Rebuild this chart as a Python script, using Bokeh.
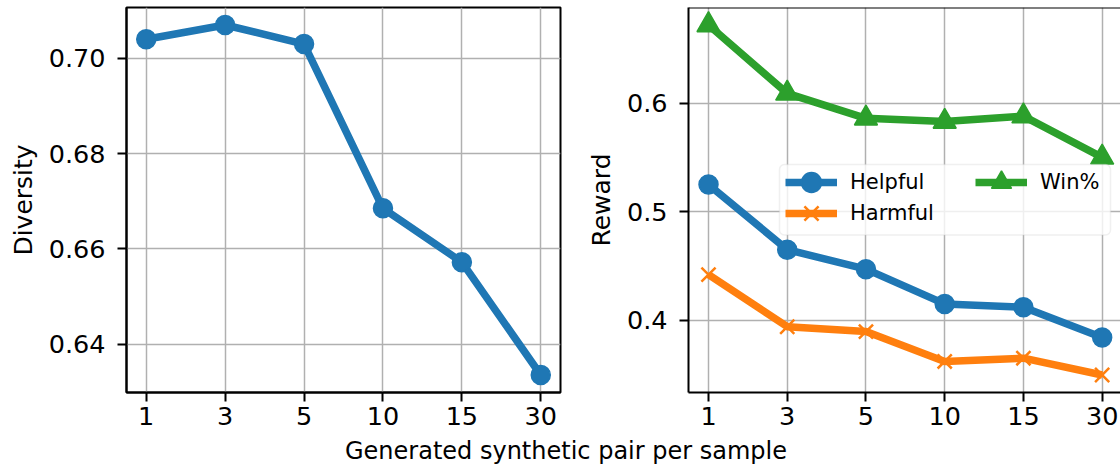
from bokeh.plotting import figure
from bokeh.models import (Range1d, FixedTicker, Legend, LegendItem, BoxAnnotation,
                          Span, Label, PrintfTickFormatter)
from bokeh.layouts import column, row
from bokeh.embed import file_html
from bokeh.resources import INLINE

# ---------------- data ----------------
x_labels = ["1", "3", "5", "10", "15", "30"]
diversity = [0.704, 0.707, 0.703, 0.6685, 0.6572, 0.6335]
helpful = [0.525, 0.465, 0.447, 0.415, 0.412, 0.384]
harmful = [0.442, 0.394, 0.3895, 0.362, 0.365, 0.3495]
win_rate = [0.672, 0.609, 0.586, 0.583, 0.588, 0.550]
div_ticks = [0.64, 0.66, 0.68, 0.70]
reward_ticks = [0.4, 0.5, 0.6]
x_title = "Generated synthetic pair per sample"

xs = list(range(len(x_labels)))
FONT = "DejaVu Sans"
BLUE, ORANGE, GREEN = "#1f77b4", "#ff7f0e", "#2ca02c"
LW = 7.5
ROW_H = 436
LBL_H = 28


def padded(vals, frac=0.05):
    lo, hi = min(vals), max(vals)
    m = (hi - lo) * frac
    return lo - m, hi + m


def style(p, yticks, fmt, ylabel):
    p.xaxis.ticker = FixedTicker(ticks=xs)
    p.xgrid.ticker = FixedTicker(ticks=xs)
    p.xaxis.major_label_overrides = {i: s for i, s in zip(xs, x_labels)}
    p.yaxis.ticker = FixedTicker(ticks=yticks)
    p.ygrid.ticker = FixedTicker(ticks=yticks)
    p.yaxis.formatter = PrintfTickFormatter(format=fmt)
    p.yaxis.axis_label = ylabel
    for ax in (p.xaxis[0], p.yaxis[0]):
        ax.major_tick_out = 9
        ax.major_tick_in = 0
        ax.minor_tick_line_color = None
        ax.major_tick_line_width = 2
        ax.major_tick_line_color = "black"
        ax.axis_line_width = 2
        ax.axis_line_color = "black"
        ax.major_label_text_font = FONT
        ax.major_label_text_font_size = "25.5px"
        ax.major_label_text_color = "black"
        ax.axis_label_text_font = FONT
        ax.axis_label_text_font_size = "25px"
        ax.axis_label_text_font_style = "normal"
        ax.axis_label_text_color = "black"
    p.xaxis.major_label_standoff = 5
    p.yaxis.major_label_standoff = 12
    p.yaxis.axis_label_standoff = 8
    p.grid.grid_line_color = "#b0b0b0"
    p.grid.grid_line_width = 1.5
    p.background_fill_color = "white"
    p.border_fill_color = "white"


# ---------------- left panel ----------------
p1 = figure(width=580, height=ROW_H, output_backend="svg", toolbar_location=None,
            x_range=Range1d(-0.25, 5.25), y_range=Range1d(*padded(diversity)),
            min_border_left=126, min_border_right=20, min_border_top=7,
            min_border_bottom=ROW_H - 392)
style(p1, div_ticks, "%.2f", "Diversity")
p1.outline_line_color = "black"
p1.outline_line_width = 2
p1.line(xs, diversity, line_width=LW, color=BLUE, line_join="round")
p1.scatter(xs, diversity, marker="circle", size=19, fill_color=BLUE,
           line_color=BLUE, line_width=1.5)

# ---------------- right panel ----------------
r_lo, r_hi = padded(helpful + harmful + win_rate)
p2 = figure(width=540, height=ROW_H, output_backend="svg", toolbar_location=None,
            x_range=Range1d(-0.254, 5.233), y_range=Range1d(r_lo, r_hi),
            min_border_left=108, min_border_right=0, min_border_top=7,
            min_border_bottom=ROW_H - 392)
style(p2, reward_ticks, "%.1f", "Reward")
p2.outline_line_color = None
p2.add_layout(Span(location=r_hi, dimension="width", line_color="black",
                   line_width=2))

lh = p2.line(xs, helpful, line_width=LW, color=BLUE, line_join="round")
sh = p2.scatter(xs, helpful, marker="circle", size=19, fill_color=BLUE,
                line_color=BLUE, line_width=1.5)
lx = p2.line(xs, harmful, line_width=LW, color=ORANGE, line_join="round")
sx = p2.scatter(xs, harmful, marker="x", size=20, line_color=ORANGE,
                line_width=2.5)
lw = p2.line(xs, win_rate, line_width=LW, color=GREEN, line_join="round")
sw = p2.scatter(xs, win_rate, marker="triangle", size=23, fill_color=GREEN,
                line_color=GREEN, line_width=1.5)

box = BoxAnnotation(left=91, right=422, bottom=157.5, top=228,
                    left_units="screen", right_units="screen",
                    top_units="screen", bottom_units="screen",
                    fill_color="white", fill_alpha=0.8, line_color="#cccccc",
                    line_width=1.5, border_radius=5)
p2.add_layout(box)


def make_legend(label, renderers, loc):
    lg = Legend(items=[LegendItem(label=label, renderers=renderers)],
                location=loc, glyph_width=52, glyph_height=50,
                label_height=20, spacing=0, padding=0, margin=0,
                label_standoff=13, border_line_color=None,
                background_fill_alpha=0)
    lg.label_text_font = FONT
    lg.label_text_font_size = "21px"
    lg.label_text_color = "black"
    return lg


p2.add_layout(make_legend("Helpful", [lh, sh], (97, 185.3)))
p2.add_layout(make_legend("Harmful", [lx, sx], (97, 153.7)))
p2.add_layout(make_legend("Win%", [lw, sw], (287, 185.3)))

# ---------------- shared x label ----------------
p3 = figure(width=1120, height=LBL_H, output_backend="svg", toolbar_location=None,
            x_range=Range1d(0, 1120), y_range=Range1d(0, LBL_H),
            x_axis_type=None, y_axis_type=None, min_border=0)
p3.grid.visible = False
p3.outline_line_color = None
p3.background_fill_color = "white"
p3.border_fill_color = "white"
p3.add_layout(Label(x=565.5, y=14, x_units="screen", y_units="screen",
                    text=x_title, text_align="center",
                    text_baseline="alphabetic", text_font=FONT,
                    text_font_size="24px", text_color="black"))

layout = column(row(p1, p2), p3)
open("out.html", "w").write(file_html(layout, INLINE))
